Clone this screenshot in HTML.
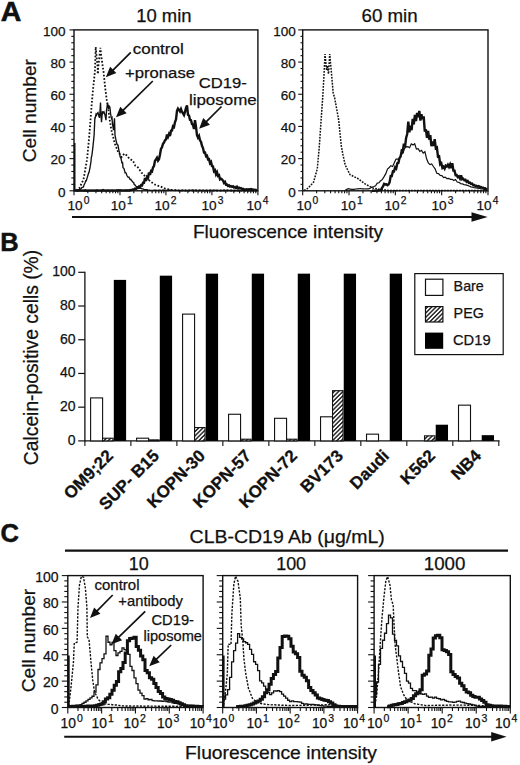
<!DOCTYPE html><html><head><meta charset="utf-8"><style>html,body{margin:0;padding:0;background:#fff;overflow:hidden;}svg{display:block;}</style></head><body><svg width="520" height="765" viewBox="0 0 520 765" font-family='"Liberation Sans", sans-serif' fill="#111">
<rect width="520" height="765" fill="#fff"/>
<text x="0.80" y="20.50" font-size="28.5" font-weight="bold" stroke="#111" stroke-width="0.6">A</text>
<text x="136.20" y="21.60" font-size="18" textLength="55.30" lengthAdjust="spacingAndGlyphs" stroke="#111" stroke-width="0.25">10 min</text>
<text x="361.50" y="21.60" font-size="18" textLength="56.20" lengthAdjust="spacingAndGlyphs" stroke="#111" stroke-width="0.25">60 min</text>
<rect x="74.00" y="29.90" width="183.90" height="160.90" fill="none" stroke="#111" stroke-width="1.4"/>
<line x1="69.50" y1="190.80" x2="74.00" y2="190.80" stroke="#111" stroke-width="1.1"/>
<text x="65.60" y="196.66" font-size="13.5" text-anchor="end" stroke="#111" stroke-width="0.25">0</text>
<line x1="71.30" y1="184.36" x2="74.00" y2="184.36" stroke="#111" stroke-width="1.1"/>
<line x1="71.30" y1="177.93" x2="74.00" y2="177.93" stroke="#111" stroke-width="1.1"/>
<line x1="71.30" y1="171.49" x2="74.00" y2="171.49" stroke="#111" stroke-width="1.1"/>
<line x1="71.30" y1="165.06" x2="74.00" y2="165.06" stroke="#111" stroke-width="1.1"/>
<line x1="69.50" y1="158.62" x2="74.00" y2="158.62" stroke="#111" stroke-width="1.1"/>
<text x="65.60" y="164.48" font-size="13.5" text-anchor="end" stroke="#111" stroke-width="0.25">20</text>
<line x1="71.30" y1="152.18" x2="74.00" y2="152.18" stroke="#111" stroke-width="1.1"/>
<line x1="71.30" y1="145.75" x2="74.00" y2="145.75" stroke="#111" stroke-width="1.1"/>
<line x1="71.30" y1="139.31" x2="74.00" y2="139.31" stroke="#111" stroke-width="1.1"/>
<line x1="71.30" y1="132.88" x2="74.00" y2="132.88" stroke="#111" stroke-width="1.1"/>
<line x1="69.50" y1="126.44" x2="74.00" y2="126.44" stroke="#111" stroke-width="1.1"/>
<text x="65.60" y="132.30" font-size="13.5" text-anchor="end" stroke="#111" stroke-width="0.25">40</text>
<line x1="71.30" y1="120.00" x2="74.00" y2="120.00" stroke="#111" stroke-width="1.1"/>
<line x1="71.30" y1="113.57" x2="74.00" y2="113.57" stroke="#111" stroke-width="1.1"/>
<line x1="71.30" y1="107.13" x2="74.00" y2="107.13" stroke="#111" stroke-width="1.1"/>
<line x1="71.30" y1="100.70" x2="74.00" y2="100.70" stroke="#111" stroke-width="1.1"/>
<line x1="69.50" y1="94.26" x2="74.00" y2="94.26" stroke="#111" stroke-width="1.1"/>
<text x="65.60" y="100.12" font-size="13.5" text-anchor="end" stroke="#111" stroke-width="0.25">60</text>
<line x1="71.30" y1="87.82" x2="74.00" y2="87.82" stroke="#111" stroke-width="1.1"/>
<line x1="71.30" y1="81.39" x2="74.00" y2="81.39" stroke="#111" stroke-width="1.1"/>
<line x1="71.30" y1="74.95" x2="74.00" y2="74.95" stroke="#111" stroke-width="1.1"/>
<line x1="71.30" y1="68.52" x2="74.00" y2="68.52" stroke="#111" stroke-width="1.1"/>
<line x1="69.50" y1="62.08" x2="74.00" y2="62.08" stroke="#111" stroke-width="1.1"/>
<text x="65.60" y="67.94" font-size="13.5" text-anchor="end" stroke="#111" stroke-width="0.25">80</text>
<line x1="71.30" y1="55.64" x2="74.00" y2="55.64" stroke="#111" stroke-width="1.1"/>
<line x1="71.30" y1="49.21" x2="74.00" y2="49.21" stroke="#111" stroke-width="1.1"/>
<line x1="71.30" y1="42.77" x2="74.00" y2="42.77" stroke="#111" stroke-width="1.1"/>
<line x1="71.30" y1="36.34" x2="74.00" y2="36.34" stroke="#111" stroke-width="1.1"/>
<line x1="69.50" y1="29.90" x2="74.00" y2="29.90" stroke="#111" stroke-width="1.1"/>
<text x="65.60" y="35.76" font-size="13.5" text-anchor="end" stroke="#111" stroke-width="0.25">100</text>
<line x1="74.00" y1="190.80" x2="74.00" y2="195.30" stroke="#111" stroke-width="1.1"/>
<line x1="87.84" y1="190.80" x2="87.84" y2="193.30" stroke="#111" stroke-width="1.1"/>
<line x1="95.94" y1="190.80" x2="95.94" y2="193.30" stroke="#111" stroke-width="1.1"/>
<line x1="101.68" y1="190.80" x2="101.68" y2="193.30" stroke="#111" stroke-width="1.1"/>
<line x1="106.14" y1="190.80" x2="106.14" y2="193.30" stroke="#111" stroke-width="1.1"/>
<line x1="109.78" y1="190.80" x2="109.78" y2="193.30" stroke="#111" stroke-width="1.1"/>
<line x1="112.85" y1="190.80" x2="112.85" y2="193.30" stroke="#111" stroke-width="1.1"/>
<line x1="115.52" y1="190.80" x2="115.52" y2="193.30" stroke="#111" stroke-width="1.1"/>
<line x1="117.87" y1="190.80" x2="117.87" y2="193.30" stroke="#111" stroke-width="1.1"/>
<line x1="119.97" y1="190.80" x2="119.97" y2="195.30" stroke="#111" stroke-width="1.1"/>
<line x1="133.81" y1="190.80" x2="133.81" y2="193.30" stroke="#111" stroke-width="1.1"/>
<line x1="141.91" y1="190.80" x2="141.91" y2="193.30" stroke="#111" stroke-width="1.1"/>
<line x1="147.65" y1="190.80" x2="147.65" y2="193.30" stroke="#111" stroke-width="1.1"/>
<line x1="152.11" y1="190.80" x2="152.11" y2="193.30" stroke="#111" stroke-width="1.1"/>
<line x1="155.75" y1="190.80" x2="155.75" y2="193.30" stroke="#111" stroke-width="1.1"/>
<line x1="158.83" y1="190.80" x2="158.83" y2="193.30" stroke="#111" stroke-width="1.1"/>
<line x1="161.49" y1="190.80" x2="161.49" y2="193.30" stroke="#111" stroke-width="1.1"/>
<line x1="163.85" y1="190.80" x2="163.85" y2="193.30" stroke="#111" stroke-width="1.1"/>
<line x1="165.95" y1="190.80" x2="165.95" y2="195.30" stroke="#111" stroke-width="1.1"/>
<line x1="179.79" y1="190.80" x2="179.79" y2="193.30" stroke="#111" stroke-width="1.1"/>
<line x1="187.89" y1="190.80" x2="187.89" y2="193.30" stroke="#111" stroke-width="1.1"/>
<line x1="193.63" y1="190.80" x2="193.63" y2="193.30" stroke="#111" stroke-width="1.1"/>
<line x1="198.09" y1="190.80" x2="198.09" y2="193.30" stroke="#111" stroke-width="1.1"/>
<line x1="201.73" y1="190.80" x2="201.73" y2="193.30" stroke="#111" stroke-width="1.1"/>
<line x1="204.80" y1="190.80" x2="204.80" y2="193.30" stroke="#111" stroke-width="1.1"/>
<line x1="207.47" y1="190.80" x2="207.47" y2="193.30" stroke="#111" stroke-width="1.1"/>
<line x1="209.82" y1="190.80" x2="209.82" y2="193.30" stroke="#111" stroke-width="1.1"/>
<line x1="211.92" y1="190.80" x2="211.92" y2="195.30" stroke="#111" stroke-width="1.1"/>
<line x1="225.76" y1="190.80" x2="225.76" y2="193.30" stroke="#111" stroke-width="1.1"/>
<line x1="233.86" y1="190.80" x2="233.86" y2="193.30" stroke="#111" stroke-width="1.1"/>
<line x1="239.60" y1="190.80" x2="239.60" y2="193.30" stroke="#111" stroke-width="1.1"/>
<line x1="244.06" y1="190.80" x2="244.06" y2="193.30" stroke="#111" stroke-width="1.1"/>
<line x1="247.70" y1="190.80" x2="247.70" y2="193.30" stroke="#111" stroke-width="1.1"/>
<line x1="250.78" y1="190.80" x2="250.78" y2="193.30" stroke="#111" stroke-width="1.1"/>
<line x1="253.44" y1="190.80" x2="253.44" y2="193.30" stroke="#111" stroke-width="1.1"/>
<line x1="255.80" y1="190.80" x2="255.80" y2="193.30" stroke="#111" stroke-width="1.1"/>
<line x1="257.90" y1="190.80" x2="257.90" y2="195.30" stroke="#111" stroke-width="1.1"/>
<text x="67.50" y="209.80" font-size="13.6" stroke="#111" stroke-width="0.25">10</text>
<text x="83.67" y="204.36" font-size="10.3" stroke="#111" stroke-width="0.25">0</text>
<text x="110.80" y="209.80" font-size="13.6" stroke="#111" stroke-width="0.25">10</text>
<text x="126.97" y="204.36" font-size="10.3" stroke="#111" stroke-width="0.25">1</text>
<text x="154.50" y="209.80" font-size="13.6" stroke="#111" stroke-width="0.25">10</text>
<text x="170.67" y="204.36" font-size="10.3" stroke="#111" stroke-width="0.25">2</text>
<text x="201.50" y="209.80" font-size="13.6" stroke="#111" stroke-width="0.25">10</text>
<text x="217.67" y="204.36" font-size="10.3" stroke="#111" stroke-width="0.25">3</text>
<text x="246.50" y="209.80" font-size="13.6" stroke="#111" stroke-width="0.25">10</text>
<text x="262.67" y="204.36" font-size="10.3" stroke="#111" stroke-width="0.25">4</text>
<line x1="74.70" y1="143.00" x2="74.70" y2="190.80" stroke="#111" stroke-width="1.6"/>
<rect x="302.70" y="29.90" width="185.30" height="160.90" fill="none" stroke="#111" stroke-width="1.4"/>
<line x1="298.20" y1="190.80" x2="302.70" y2="190.80" stroke="#111" stroke-width="1.1"/>
<text x="295.80" y="196.66" font-size="13.5" text-anchor="end" stroke="#111" stroke-width="0.25">0</text>
<line x1="300.50" y1="184.36" x2="302.70" y2="184.36" stroke="#111" stroke-width="1.1"/>
<line x1="300.50" y1="177.93" x2="302.70" y2="177.93" stroke="#111" stroke-width="1.1"/>
<line x1="300.50" y1="171.49" x2="302.70" y2="171.49" stroke="#111" stroke-width="1.1"/>
<line x1="300.50" y1="165.06" x2="302.70" y2="165.06" stroke="#111" stroke-width="1.1"/>
<line x1="298.20" y1="158.62" x2="302.70" y2="158.62" stroke="#111" stroke-width="1.1"/>
<text x="295.80" y="164.48" font-size="13.5" text-anchor="end" stroke="#111" stroke-width="0.25">20</text>
<line x1="300.50" y1="152.18" x2="302.70" y2="152.18" stroke="#111" stroke-width="1.1"/>
<line x1="300.50" y1="145.75" x2="302.70" y2="145.75" stroke="#111" stroke-width="1.1"/>
<line x1="300.50" y1="139.31" x2="302.70" y2="139.31" stroke="#111" stroke-width="1.1"/>
<line x1="300.50" y1="132.88" x2="302.70" y2="132.88" stroke="#111" stroke-width="1.1"/>
<line x1="298.20" y1="126.44" x2="302.70" y2="126.44" stroke="#111" stroke-width="1.1"/>
<text x="295.80" y="132.30" font-size="13.5" text-anchor="end" stroke="#111" stroke-width="0.25">40</text>
<line x1="300.50" y1="120.00" x2="302.70" y2="120.00" stroke="#111" stroke-width="1.1"/>
<line x1="300.50" y1="113.57" x2="302.70" y2="113.57" stroke="#111" stroke-width="1.1"/>
<line x1="300.50" y1="107.13" x2="302.70" y2="107.13" stroke="#111" stroke-width="1.1"/>
<line x1="300.50" y1="100.70" x2="302.70" y2="100.70" stroke="#111" stroke-width="1.1"/>
<line x1="298.20" y1="94.26" x2="302.70" y2="94.26" stroke="#111" stroke-width="1.1"/>
<text x="295.80" y="100.12" font-size="13.5" text-anchor="end" stroke="#111" stroke-width="0.25">60</text>
<line x1="300.50" y1="87.82" x2="302.70" y2="87.82" stroke="#111" stroke-width="1.1"/>
<line x1="300.50" y1="81.39" x2="302.70" y2="81.39" stroke="#111" stroke-width="1.1"/>
<line x1="300.50" y1="74.95" x2="302.70" y2="74.95" stroke="#111" stroke-width="1.1"/>
<line x1="300.50" y1="68.52" x2="302.70" y2="68.52" stroke="#111" stroke-width="1.1"/>
<line x1="298.20" y1="62.08" x2="302.70" y2="62.08" stroke="#111" stroke-width="1.1"/>
<text x="295.80" y="67.94" font-size="13.5" text-anchor="end" stroke="#111" stroke-width="0.25">80</text>
<line x1="300.50" y1="55.64" x2="302.70" y2="55.64" stroke="#111" stroke-width="1.1"/>
<line x1="300.50" y1="49.21" x2="302.70" y2="49.21" stroke="#111" stroke-width="1.1"/>
<line x1="300.50" y1="42.77" x2="302.70" y2="42.77" stroke="#111" stroke-width="1.1"/>
<line x1="300.50" y1="36.34" x2="302.70" y2="36.34" stroke="#111" stroke-width="1.1"/>
<line x1="298.20" y1="29.90" x2="302.70" y2="29.90" stroke="#111" stroke-width="1.1"/>
<text x="295.80" y="35.76" font-size="13.5" text-anchor="end" stroke="#111" stroke-width="0.25">100</text>
<line x1="302.70" y1="190.80" x2="302.70" y2="195.30" stroke="#111" stroke-width="1.1"/>
<line x1="316.65" y1="190.80" x2="316.65" y2="193.30" stroke="#111" stroke-width="1.1"/>
<line x1="324.80" y1="190.80" x2="324.80" y2="193.30" stroke="#111" stroke-width="1.1"/>
<line x1="330.59" y1="190.80" x2="330.59" y2="193.30" stroke="#111" stroke-width="1.1"/>
<line x1="335.08" y1="190.80" x2="335.08" y2="193.30" stroke="#111" stroke-width="1.1"/>
<line x1="338.75" y1="190.80" x2="338.75" y2="193.30" stroke="#111" stroke-width="1.1"/>
<line x1="341.85" y1="190.80" x2="341.85" y2="193.30" stroke="#111" stroke-width="1.1"/>
<line x1="344.54" y1="190.80" x2="344.54" y2="193.30" stroke="#111" stroke-width="1.1"/>
<line x1="346.91" y1="190.80" x2="346.91" y2="193.30" stroke="#111" stroke-width="1.1"/>
<line x1="349.02" y1="190.80" x2="349.02" y2="195.30" stroke="#111" stroke-width="1.1"/>
<line x1="362.97" y1="190.80" x2="362.97" y2="193.30" stroke="#111" stroke-width="1.1"/>
<line x1="371.13" y1="190.80" x2="371.13" y2="193.30" stroke="#111" stroke-width="1.1"/>
<line x1="376.92" y1="190.80" x2="376.92" y2="193.30" stroke="#111" stroke-width="1.1"/>
<line x1="381.40" y1="190.80" x2="381.40" y2="193.30" stroke="#111" stroke-width="1.1"/>
<line x1="385.07" y1="190.80" x2="385.07" y2="193.30" stroke="#111" stroke-width="1.1"/>
<line x1="388.17" y1="190.80" x2="388.17" y2="193.30" stroke="#111" stroke-width="1.1"/>
<line x1="390.86" y1="190.80" x2="390.86" y2="193.30" stroke="#111" stroke-width="1.1"/>
<line x1="393.23" y1="190.80" x2="393.23" y2="193.30" stroke="#111" stroke-width="1.1"/>
<line x1="395.35" y1="190.80" x2="395.35" y2="195.30" stroke="#111" stroke-width="1.1"/>
<line x1="409.30" y1="190.80" x2="409.30" y2="193.30" stroke="#111" stroke-width="1.1"/>
<line x1="417.45" y1="190.80" x2="417.45" y2="193.30" stroke="#111" stroke-width="1.1"/>
<line x1="423.24" y1="190.80" x2="423.24" y2="193.30" stroke="#111" stroke-width="1.1"/>
<line x1="427.73" y1="190.80" x2="427.73" y2="193.30" stroke="#111" stroke-width="1.1"/>
<line x1="431.40" y1="190.80" x2="431.40" y2="193.30" stroke="#111" stroke-width="1.1"/>
<line x1="434.50" y1="190.80" x2="434.50" y2="193.30" stroke="#111" stroke-width="1.1"/>
<line x1="437.19" y1="190.80" x2="437.19" y2="193.30" stroke="#111" stroke-width="1.1"/>
<line x1="439.56" y1="190.80" x2="439.56" y2="193.30" stroke="#111" stroke-width="1.1"/>
<line x1="441.68" y1="190.80" x2="441.68" y2="195.30" stroke="#111" stroke-width="1.1"/>
<line x1="455.62" y1="190.80" x2="455.62" y2="193.30" stroke="#111" stroke-width="1.1"/>
<line x1="463.78" y1="190.80" x2="463.78" y2="193.30" stroke="#111" stroke-width="1.1"/>
<line x1="469.57" y1="190.80" x2="469.57" y2="193.30" stroke="#111" stroke-width="1.1"/>
<line x1="474.05" y1="190.80" x2="474.05" y2="193.30" stroke="#111" stroke-width="1.1"/>
<line x1="477.72" y1="190.80" x2="477.72" y2="193.30" stroke="#111" stroke-width="1.1"/>
<line x1="480.82" y1="190.80" x2="480.82" y2="193.30" stroke="#111" stroke-width="1.1"/>
<line x1="483.51" y1="190.80" x2="483.51" y2="193.30" stroke="#111" stroke-width="1.1"/>
<line x1="485.88" y1="190.80" x2="485.88" y2="193.30" stroke="#111" stroke-width="1.1"/>
<line x1="488.00" y1="190.80" x2="488.00" y2="195.30" stroke="#111" stroke-width="1.1"/>
<text x="296.40" y="209.80" font-size="13.6" stroke="#111" stroke-width="0.25">10</text>
<text x="312.57" y="204.36" font-size="10.3" stroke="#111" stroke-width="0.25">0</text>
<text x="340.80" y="209.80" font-size="13.6" stroke="#111" stroke-width="0.25">10</text>
<text x="356.97" y="204.36" font-size="10.3" stroke="#111" stroke-width="0.25">1</text>
<text x="384.50" y="209.80" font-size="13.6" stroke="#111" stroke-width="0.25">10</text>
<text x="400.67" y="204.36" font-size="10.3" stroke="#111" stroke-width="0.25">2</text>
<text x="431.50" y="209.80" font-size="13.6" stroke="#111" stroke-width="0.25">10</text>
<text x="447.67" y="204.36" font-size="10.3" stroke="#111" stroke-width="0.25">3</text>
<text x="476.50" y="209.80" font-size="13.6" stroke="#111" stroke-width="0.25">10</text>
<text x="492.67" y="204.36" font-size="10.3" stroke="#111" stroke-width="0.25">4</text>
<text x="36.00" y="110.65" font-size="19" text-anchor="middle" textLength="103.10" lengthAdjust="spacingAndGlyphs" transform="rotate(-90 36.00 110.65)" stroke="#111" stroke-width="0.25">Cell number</text>
<polyline points="76.00,190.50 79.20,188.30 80.90,184.80 83.50,179.60 85.50,168.00 87.10,159.30 89.40,134.20 91.80,102.80 93.30,87.10 94.90,71.40 95.70,47.00 98.20,74.60" fill="none" stroke="#111" stroke-width="1.8" stroke-linejoin="miter" stroke-miterlimit="3" stroke-dasharray="1.7 1.8"/>
<polyline points="97.60,73.00 100.40,47.80 101.20,55.70 103.50,71.40 105.10,87.10 106.70,99.70 108.30,109.00 109.50,118.50 111.20,129.40 114.70,143.30 118.10,151.90 121.60,157.10 124.20,153.70 126.80,155.40 129.40,158.80 132.80,160.60 135.40,165.80 138.00,167.50 141.50,172.70 145.00,176.20 150.20,181.30 155.30,184.80 160.50,186.50 166.00,189.00 172.00,190.00 180.00,190.50 257.00,190.50" fill="none" stroke="#111" stroke-width="1.8" stroke-linejoin="miter" stroke-miterlimit="3" stroke-dasharray="1.7 1.8"/>
<polyline points="76.00,190.59 77.00,190.43 78.00,189.99 79.00,189.55 80.00,189.43 80.90,188.90 81.00,188.80 82.00,187.41 83.00,187.35 83.50,186.59 84.00,185.04 85.00,182.97 86.00,180.33 86.10,181.21 87.00,178.36 88.00,175.01 88.70,172.59 89.00,172.60 90.00,167.53 91.00,161.52 91.30,157.75 92.00,154.63 92.60,149.70 93.00,146.06 94.00,136.32 94.10,135.45 94.90,117.39 95.00,118.94 96.00,114.33 96.50,115.21 97.00,113.67 98.00,112.57 99.00,116.50 99.50,117.86 100.00,111.35 100.50,102.61 101.00,114.25 101.50,122.22 102.00,115.99 102.50,111.25 103.00,113.25 104.00,111.96 105.00,114.92 105.50,117.71 106.00,120.20 106.50,110.22 107.00,107.01 107.50,103.38 108.00,105.71 108.50,108.95 109.00,105.85 109.50,106.33 110.00,107.94 110.50,113.15 111.00,116.17 111.50,118.27 112.00,117.58 112.50,124.32 113.00,126.87 113.50,130.25 114.00,123.91 114.50,118.38 115.00,135.15 116.00,140.30 117.00,144.28 118.00,145.12 118.10,146.03 119.00,150.71 119.90,154.44 120.00,156.65 121.00,158.41 122.00,163.42 122.50,161.86 123.00,167.65 124.00,168.54 125.00,172.39 125.10,172.23 126.00,172.87 127.00,175.80 127.70,176.71 128.00,177.12 129.00,177.21 130.00,179.25 131.00,179.36 131.10,180.22 132.00,181.01 133.00,182.27 133.70,182.57 134.00,184.09 135.00,185.04 136.00,186.31 136.30,186.45 137.00,186.54 138.00,187.04 139.00,187.88 139.80,188.42 140.00,188.41 141.00,188.25 142.00,188.90 143.00,188.88 144.00,189.34 145.00,189.67 146.00,189.73 147.00,189.79 148.00,190.13 149.00,190.10 150.00,190.24 151.00,190.30 152.00,190.42 153.00,190.45 154.00,190.20 155.00,190.24 156.00,190.28 157.00,190.31 158.00,190.42 159.00,190.29 160.00,190.18 161.00,190.34 162.00,190.37 163.00,190.00 164.00,190.24 165.00,190.18 166.00,190.31 167.00,190.38 168.00,190.48 169.00,190.24 170.00,190.06 171.00,190.41 172.00,190.27 173.00,190.41 174.00,190.38 175.00,190.31 176.00,190.14 177.00,190.42 178.00,190.34 179.00,190.48 180.00,190.38 181.00,190.45 182.00,190.35 183.00,190.27 184.00,190.46 185.00,190.43 186.00,190.49 187.00,190.52 188.00,190.46 189.00,190.50 190.00,190.17 191.00,190.39 192.00,190.08 193.00,190.24 194.00,190.28 195.00,190.47 196.00,190.28 197.00,190.46 198.00,190.45 199.00,190.39 200.00,190.26 201.00,190.40 202.00,190.47 203.00,190.41 204.00,190.42 205.00,190.37 206.00,190.53 207.00,190.52 208.00,190.42 209.00,190.32 210.00,190.41 211.00,190.27 212.00,190.42 213.00,190.51 214.00,190.42 215.00,190.29 216.00,190.40 217.00,190.56 218.00,190.42 219.00,190.41 220.00,190.55 221.00,190.38 222.00,190.47 223.00,190.32 224.00,190.29 225.00,190.36 226.00,190.39 227.00,190.22 228.00,190.33 229.00,190.37 230.00,190.46 231.00,190.41 232.00,190.46 233.00,190.36 234.00,190.50 235.00,190.57 236.00,190.57 237.00,190.54 238.00,190.59 239.00,190.41 240.00,190.38 241.00,190.59 242.00,190.39 243.00,190.11 244.00,190.45 245.00,190.36 246.00,190.47 247.00,190.54 248.00,190.45 249.00,190.56 250.00,190.54 251.00,190.35 252.00,190.51 253.00,190.51 254.00,190.40 255.00,190.60 256.00,190.60 257.00,190.63" fill="none" stroke="#111" stroke-width="1.35" stroke-linejoin="miter" stroke-miterlimit="3"/>
<polyline points="74.00,190.70 75.00,190.47 76.00,190.64 77.00,190.51 78.00,190.71 79.00,190.47 80.00,190.65 81.00,190.51 82.00,190.63 83.00,190.51 84.00,190.65 85.00,190.25 86.00,190.71 87.00,190.50 88.00,190.71 89.00,190.45 90.00,190.63 91.00,190.47 92.00,190.60 93.00,190.39 94.00,190.63 95.00,190.42 96.00,190.58 97.00,190.36 98.00,190.65 99.00,190.42 100.00,190.64 101.00,190.43 102.00,190.62 103.00,190.10 104.00,190.60 105.00,190.42 106.00,190.59 107.00,190.43 108.00,190.56 109.00,190.43 110.00,190.57 111.00,190.42 112.00,190.55 113.00,190.36 114.00,190.58 115.00,190.39 116.00,190.56 117.00,190.31 118.00,190.51 119.00,190.30 120.00,190.36 121.00,190.31 122.00,190.62 123.00,190.38 124.00,190.59 125.00,190.30 126.00,190.55 127.00,190.29 128.00,190.59 129.00,190.34 130.00,190.58 131.00,189.91 132.00,190.02 133.00,189.40 134.00,189.38 135.00,188.66 136.00,188.99 137.00,187.90 138.00,187.99 139.00,186.42 140.00,186.87 141.00,185.16 142.00,185.44 143.00,182.73 144.00,182.81 145.00,178.04 146.00,181.02 147.00,176.98 148.00,178.05 149.00,172.55 150.00,174.83 151.00,170.96 152.00,171.53 153.00,167.41 154.00,166.09 155.00,160.74 156.00,159.44 157.00,157.75 158.00,160.62 159.00,159.17 160.00,154.46 161.00,148.82 162.00,147.29 163.00,143.83 164.00,142.59 165.00,140.33 166.00,139.39 167.00,134.44 168.00,136.73 169.00,133.98 170.00,135.92 171.00,130.81 172.00,130.52 173.00,126.27 174.00,126.93 175.00,122.05 176.00,119.56 177.00,110.92 178.00,108.56 179.00,109.90 180.00,111.48 181.00,109.06 182.00,111.80 183.00,113.41 184.00,115.02 185.00,111.72 186.00,107.90 187.00,105.46 188.00,114.87 189.00,115.46 190.00,119.87 191.00,120.19 192.00,124.03 193.00,124.89 194.00,128.97 195.00,120.23 196.00,126.84 197.00,135.18 198.00,137.54 199.00,135.92 200.00,140.37 201.00,141.84 202.00,145.87 203.00,148.06 204.00,152.51 205.00,152.49 206.00,156.11 207.00,155.61 208.00,159.28 209.00,159.13 210.00,163.06 211.00,161.83 212.00,166.13 213.00,166.48 214.00,171.19 215.00,170.28 216.00,174.24 217.00,172.25 218.00,175.90 219.00,175.27 220.00,179.33 221.00,178.72 222.00,179.39 223.00,180.56 224.00,182.98 225.00,182.00 226.00,184.67 227.00,184.50 228.00,185.98 229.00,185.41 230.00,186.61 231.00,186.11 232.00,186.88 233.00,186.32 234.00,187.58 235.00,187.04 236.00,188.00 237.00,186.76 238.00,188.19 239.00,187.69 240.00,188.50 241.00,188.19 242.00,189.06 243.00,188.86 244.00,189.55 245.00,189.51 246.00,189.68 247.00,189.20 248.00,189.53 249.00,189.18 250.00,189.44 251.00,189.12 252.00,189.67 253.00,189.46 254.00,189.99 255.00,189.71 256.00,190.10 257.00,190.04" fill="none" stroke="#111" stroke-width="2.4" stroke-linejoin="miter" stroke-miterlimit="3"/>
<text x="132.70" y="54.20" font-size="15.3" textLength="51.00" lengthAdjust="spacingAndGlyphs" stroke="#111" stroke-width="0.25">control</text>
<text x="125.00" y="77.70" font-size="15.3" textLength="70.00" lengthAdjust="spacingAndGlyphs" stroke="#111" stroke-width="0.25">+pronase</text>
<text x="198.70" y="87.70" font-size="15.3" textLength="48.00" lengthAdjust="spacingAndGlyphs" stroke="#111" stroke-width="0.25">CD19-</text>
<text x="188.90" y="104.80" font-size="15.3" textLength="67.80" lengthAdjust="spacingAndGlyphs" stroke="#111" stroke-width="0.25">liposome</text>
<line x1="130.80" y1="52.30" x2="112.52" y2="70.58" stroke="#111" stroke-width="1.7"/>
<polygon points="105.80,77.30 110.11,66.76 116.34,72.99" fill="#111"/>
<line x1="152.80" y1="81.00" x2="122.76" y2="110.63" stroke="#111" stroke-width="1.7"/>
<polygon points="116.00,117.30 120.24,106.65 126.71,113.20" fill="#111"/>
<line x1="221.50" y1="106.50" x2="205.85" y2="122.15" stroke="#111" stroke-width="1.7"/>
<polygon points="199.20,128.80 203.16,118.05 209.95,124.84" fill="#111"/>
<polyline points="304.00,190.50 307.00,189.00 310.00,186.00 313.50,182.30 317.30,168.80 319.20,147.70 321.20,118.80 322.70,97.70 324.00,75.00 325.00,54.00 326.50,70.00 327.50,66.00 328.50,74.00 329.70,54.00 331.00,68.00 333.20,93.00 334.60,97.70 338.50,118.80 341.30,145.80 343.00,155.00 345.20,165.00 350.00,174.60 357.70,178.50 365.40,184.20 373.00,188.00 380.00,189.50 390.00,190.50 487.00,190.50" fill="none" stroke="#111" stroke-width="1.5" stroke-linejoin="miter" stroke-miterlimit="3" stroke-dasharray="1.8 1.2"/>
<polyline points="345.00,190.52 346.70,189.38 348.40,188.74 350.10,189.07 351.80,189.42 353.50,189.35 355.20,189.22 356.90,188.75 358.60,188.81 360.30,188.53 362.00,188.80 363.70,188.73 365.40,188.97 367.10,188.97 368.80,188.82 370.50,187.98 372.20,187.01 373.90,186.50 375.60,185.84 377.30,183.04 379.00,182.75 380.70,180.73 382.40,179.35 384.10,176.63 385.80,173.64 387.50,169.01 389.20,167.45 390.90,165.70 392.60,166.47 394.30,162.86 396.00,159.03 397.70,159.06 399.40,158.90 401.10,153.87 402.80,153.52 404.50,148.66 406.20,146.94 407.90,146.71 409.60,147.70 411.30,143.81 413.00,144.98 414.70,143.82 416.40,149.11 418.10,148.68 419.80,151.43 421.50,150.36 423.20,153.09 424.90,151.67 426.60,158.84 428.30,162.85 430.00,164.60 431.70,164.03 433.40,166.52 435.10,168.77 436.80,173.27 438.50,173.58 440.20,175.50 441.90,175.69 443.60,177.65 445.30,177.22 447.00,178.60 448.70,178.32 450.40,179.28 452.10,179.27 453.80,180.45 455.50,179.52 457.20,182.04 458.90,182.37 460.60,183.58 462.30,183.82 464.00,184.63 465.70,184.94 467.40,185.36 469.10,186.06 470.80,186.90 472.50,187.23 474.20,187.70 475.90,187.83 477.60,188.07 479.30,188.39 481.00,188.75 482.70,188.93 484.40,189.30 486.10,189.51" fill="none" stroke="#111" stroke-width="1.2" stroke-linejoin="miter" stroke-miterlimit="3"/>
<polyline points="372.00,190.80 373.10,190.74 374.20,190.72 375.30,190.62 376.40,190.62 377.50,190.51 378.60,190.50 379.70,190.37 380.80,190.39 381.90,188.09 383.00,186.47 384.10,183.82 385.20,184.40 386.30,184.22 387.40,185.24 388.50,184.50 389.60,182.25 390.70,176.02 391.80,176.01 392.90,171.31 394.00,171.48 395.10,167.44 396.20,168.58 397.30,163.43 398.40,162.88 399.50,157.97 400.60,156.71 401.70,150.62 402.80,151.28 403.90,143.73 405.00,147.24 406.10,137.95 407.20,133.97 408.30,121.54 409.40,132.40 410.50,125.66 411.60,130.19 412.70,118.84 413.80,124.42 414.90,114.98 416.00,121.05 417.10,112.89 418.20,117.12 419.30,110.92 420.40,120.65 421.50,114.26 422.60,119.15 423.70,116.32 424.80,131.56 425.90,129.30 427.00,137.88 428.10,130.92 429.20,139.64 430.30,135.19 431.40,146.13 432.50,141.51 433.60,146.03 434.70,139.22 435.80,148.23 436.90,147.55 438.00,156.67 439.10,156.31 440.20,164.27 441.30,163.22 442.40,167.82 443.50,166.76 444.60,168.61 445.70,165.64 446.80,166.54 447.90,164.65 449.00,166.84 450.10,164.39 451.20,168.18 452.30,163.19 453.40,170.55 454.50,170.68 455.60,175.27 456.70,175.14 457.80,177.18 458.90,176.33 460.00,178.48 461.10,175.35 462.20,179.28 463.30,178.77 464.40,180.32 465.50,179.84 466.60,181.74 467.70,180.99 468.80,182.92 469.90,182.68 471.00,183.86 472.10,183.62 473.20,185.27 474.30,185.12 475.40,185.95 476.50,185.73 477.60,186.62 478.70,186.20 479.80,186.87 480.90,186.88 482.00,187.65 483.10,187.68 484.20,188.50 485.30,188.27 486.40,189.17 487.50,189.28" fill="none" stroke="#111" stroke-width="2.4" stroke-linejoin="miter" stroke-miterlimit="3"/>
<line x1="72.00" y1="217.00" x2="474.00" y2="217.00" stroke="#111" stroke-width="2.0"/>
<polygon points="487.7,217 471.5,212.2 471.5,221.8" fill="#111"/>
<text x="192.90" y="238.10" font-size="18.5" textLength="190.20" lengthAdjust="spacingAndGlyphs" stroke="#111" stroke-width="0.25">Fluorescence intensity</text>
<text x="0.30" y="251.20" font-size="25.5" font-weight="bold" stroke="#111" stroke-width="0.5">B</text>
<text x="38.40" y="357.50" font-size="19.5" text-anchor="middle" textLength="215.40" lengthAdjust="spacingAndGlyphs" transform="rotate(-90 38.40 357.50)" stroke="#111" stroke-width="0.25">Calcein-positive cells (%)</text>
<line x1="84.90" y1="271.70" x2="84.90" y2="441.50" stroke="#111" stroke-width="1.3"/>
<line x1="84.90" y1="440.90" x2="499.60" y2="440.90" stroke="#111" stroke-width="1.3"/>
<line x1="78.20" y1="440.90" x2="84.90" y2="440.90" stroke="#111" stroke-width="1.2"/>
<text x="75.60" y="444.80" font-size="14" text-anchor="end" stroke="#111" stroke-width="0.25">0</text>
<line x1="78.20" y1="407.18" x2="84.90" y2="407.18" stroke="#111" stroke-width="1.2"/>
<text x="75.60" y="411.08" font-size="14" text-anchor="end" stroke="#111" stroke-width="0.25">20</text>
<line x1="78.20" y1="373.46" x2="84.90" y2="373.46" stroke="#111" stroke-width="1.2"/>
<text x="75.60" y="377.36" font-size="14" text-anchor="end" stroke="#111" stroke-width="0.25">40</text>
<line x1="78.20" y1="339.74" x2="84.90" y2="339.74" stroke="#111" stroke-width="1.2"/>
<text x="75.60" y="343.64" font-size="14" text-anchor="end" stroke="#111" stroke-width="0.25">60</text>
<line x1="78.20" y1="306.02" x2="84.90" y2="306.02" stroke="#111" stroke-width="1.2"/>
<text x="75.60" y="309.92" font-size="14" text-anchor="end" stroke="#111" stroke-width="0.25">80</text>
<line x1="78.20" y1="272.30" x2="84.90" y2="272.30" stroke="#111" stroke-width="1.2"/>
<text x="75.60" y="276.20" font-size="14" text-anchor="end" stroke="#111" stroke-width="0.25">100</text>
<line x1="84.90" y1="440.90" x2="84.90" y2="445.90" stroke="#111" stroke-width="1.1"/>
<line x1="130.89" y1="440.90" x2="130.89" y2="445.90" stroke="#111" stroke-width="1.1"/>
<line x1="176.88" y1="440.90" x2="176.88" y2="445.90" stroke="#111" stroke-width="1.1"/>
<line x1="222.87" y1="440.90" x2="222.87" y2="445.90" stroke="#111" stroke-width="1.1"/>
<line x1="268.86" y1="440.90" x2="268.86" y2="445.90" stroke="#111" stroke-width="1.1"/>
<line x1="314.84" y1="440.90" x2="314.84" y2="445.90" stroke="#111" stroke-width="1.1"/>
<line x1="360.83" y1="440.90" x2="360.83" y2="445.90" stroke="#111" stroke-width="1.1"/>
<line x1="406.82" y1="440.90" x2="406.82" y2="445.90" stroke="#111" stroke-width="1.1"/>
<line x1="452.81" y1="440.90" x2="452.81" y2="445.90" stroke="#111" stroke-width="1.1"/>
<line x1="498.80" y1="440.90" x2="498.80" y2="445.90" stroke="#111" stroke-width="1.1"/>
<defs><pattern id="hatch" patternUnits="userSpaceOnUse" width="3.05" height="3.05" patternTransform="rotate(45)"><rect width="3.05" height="3.05" fill="#fff"/><line x1="0.8" y1="0" x2="0.8" y2="3.05" stroke="#000" stroke-width="1.25"/></pattern></defs>
<rect x="90.60" y="397.91" width="12" height="42.99" fill="#fff" stroke="#111" stroke-width="1.1"/>
<rect x="102.60" y="438.20" width="10.5" height="2.70" fill="url(#hatch)" stroke="#111" stroke-width="1.1"/>
<rect x="113.80" y="279.89" width="12.3" height="161.01" fill="#000"/>
<rect x="136.59" y="438.20" width="12" height="2.70" fill="#fff" stroke="#111" stroke-width="1.1"/>
<rect x="148.59" y="439.89" width="10.5" height="1.01" fill="url(#hatch)" stroke="#111" stroke-width="1.1"/>
<rect x="159.79" y="275.67" width="12.3" height="165.23" fill="#000"/>
<rect x="182.58" y="314.11" width="12" height="126.79" fill="#fff" stroke="#111" stroke-width="1.1"/>
<rect x="194.58" y="427.58" width="10.5" height="13.32" fill="url(#hatch)" stroke="#111" stroke-width="1.1"/>
<rect x="205.78" y="273.65" width="12.3" height="167.25" fill="#000"/>
<rect x="228.57" y="414.26" width="12" height="26.64" fill="#fff" stroke="#111" stroke-width="1.1"/>
<rect x="240.57" y="439.21" width="10.5" height="1.69" fill="url(#hatch)" stroke="#111" stroke-width="1.1"/>
<rect x="251.77" y="273.65" width="12.3" height="167.25" fill="#000"/>
<rect x="274.56" y="418.31" width="12" height="22.59" fill="#fff" stroke="#111" stroke-width="1.1"/>
<rect x="286.56" y="439.21" width="10.5" height="1.69" fill="url(#hatch)" stroke="#111" stroke-width="1.1"/>
<rect x="297.76" y="273.65" width="12.3" height="167.25" fill="#000"/>
<rect x="320.54" y="416.79" width="12" height="24.11" fill="#fff" stroke="#111" stroke-width="1.1"/>
<rect x="332.54" y="390.66" width="10.5" height="50.24" fill="url(#hatch)" stroke="#111" stroke-width="1.1"/>
<rect x="343.74" y="273.65" width="12.3" height="167.25" fill="#000"/>
<rect x="366.53" y="434.16" width="12" height="6.74" fill="#fff" stroke="#111" stroke-width="1.1"/>
<rect x="389.73" y="273.65" width="12.3" height="167.25" fill="#000"/>
<rect x="424.52" y="435.84" width="10.5" height="5.06" fill="url(#hatch)" stroke="#111" stroke-width="1.1"/>
<rect x="435.72" y="424.71" width="12.3" height="16.19" fill="#000"/>
<rect x="458.51" y="405.16" width="12" height="35.74" fill="#fff" stroke="#111" stroke-width="1.1"/>
<rect x="481.71" y="435.17" width="12.3" height="5.73" fill="#000"/>
<text x="114.19" y="456.80" font-size="17" text-anchor="end" font-weight="bold" transform="rotate(-45 114.19 456.80)" stroke="#111" stroke-width="0.3">OM9;22</text>
<text x="160.18" y="456.80" font-size="17" text-anchor="end" font-weight="bold" transform="rotate(-45 160.18 456.80)" stroke="#111" stroke-width="0.3">SUP- B15</text>
<text x="206.17" y="456.80" font-size="17" text-anchor="end" font-weight="bold" transform="rotate(-45 206.17 456.80)" stroke="#111" stroke-width="0.3">KOPN-30</text>
<text x="252.16" y="456.80" font-size="17" text-anchor="end" font-weight="bold" transform="rotate(-45 252.16 456.80)" stroke="#111" stroke-width="0.3">KOPN-57</text>
<text x="298.15" y="456.80" font-size="17" text-anchor="end" font-weight="bold" transform="rotate(-45 298.15 456.80)" stroke="#111" stroke-width="0.3">KOPN-72</text>
<text x="344.14" y="456.80" font-size="17" text-anchor="end" font-weight="bold" transform="rotate(-45 344.14 456.80)" stroke="#111" stroke-width="0.3">BV173</text>
<text x="390.13" y="456.80" font-size="17" text-anchor="end" font-weight="bold" transform="rotate(-45 390.13 456.80)" stroke="#111" stroke-width="0.3">Daudi</text>
<text x="436.12" y="456.80" font-size="17" text-anchor="end" font-weight="bold" transform="rotate(-45 436.12 456.80)" stroke="#111" stroke-width="0.3">K562</text>
<text x="482.11" y="456.80" font-size="17" text-anchor="end" font-weight="bold" transform="rotate(-45 482.11 456.80)" stroke="#111" stroke-width="0.3">NB4</text>
<rect x="414.8" y="273.6" width="88.4" height="81" fill="#fff" stroke="#111" stroke-width="1.2"/>
<rect x="425.5" y="279.2" width="17.4" height="16.2" fill="#fff" stroke="#111" stroke-width="1.2"/>
<rect x="425.5" y="306.6" width="17.4" height="15.4" fill="url(#hatch)" stroke="#111" stroke-width="1.2"/>
<rect x="425.0" y="332.6" width="18.2" height="16.2" fill="#000"/>
<text x="453.60" y="291.30" font-size="14.6" textLength="30.20" lengthAdjust="spacingAndGlyphs" stroke="#111" stroke-width="0.25">Bare</text>
<text x="453.60" y="318.20" font-size="14.6" textLength="30.20" lengthAdjust="spacingAndGlyphs" stroke="#111" stroke-width="0.25">PEG</text>
<text x="453.00" y="345.30" font-size="14.6" textLength="37.60" lengthAdjust="spacingAndGlyphs" stroke="#111" stroke-width="0.25">CD19</text>
<text x="0.60" y="542.40" font-size="25.5" font-weight="bold" stroke="#111" stroke-width="0.5">C</text>
<text x="189.60" y="543.30" font-size="18.8" textLength="195.20" lengthAdjust="spacingAndGlyphs" stroke="#111" stroke-width="0.25">CLB-CD19 Ab (μg/mL)</text>
<line x1="65.00" y1="550.60" x2="508.00" y2="550.60" stroke="#111" stroke-width="2.2"/>
<text x="128.70" y="570.40" font-size="18" textLength="20.00" lengthAdjust="spacingAndGlyphs" stroke="#111" stroke-width="0.25">10</text>
<text x="276.20" y="570.40" font-size="18" textLength="29.90" lengthAdjust="spacingAndGlyphs" stroke="#111" stroke-width="0.25">100</text>
<text x="423.80" y="570.40" font-size="18" textLength="41.60" lengthAdjust="spacingAndGlyphs" stroke="#111" stroke-width="0.25">1000</text>
<rect x="67.80" y="575.60" width="135.30" height="131.90" fill="none" stroke="#111" stroke-width="1.4"/>
<line x1="61.80" y1="707.50" x2="67.80" y2="707.50" stroke="#111" stroke-width="1.1"/>
<text x="58.60" y="713.84" font-size="14" text-anchor="end" stroke="#111" stroke-width="0.25">0</text>
<line x1="64.30" y1="702.22" x2="67.80" y2="702.22" stroke="#111" stroke-width="1.1"/>
<line x1="64.30" y1="696.95" x2="67.80" y2="696.95" stroke="#111" stroke-width="1.1"/>
<line x1="64.30" y1="691.67" x2="67.80" y2="691.67" stroke="#111" stroke-width="1.1"/>
<line x1="64.30" y1="686.40" x2="67.80" y2="686.40" stroke="#111" stroke-width="1.1"/>
<line x1="61.80" y1="681.12" x2="67.80" y2="681.12" stroke="#111" stroke-width="1.1"/>
<text x="58.60" y="687.46" font-size="14" text-anchor="end" stroke="#111" stroke-width="0.25">20</text>
<line x1="64.30" y1="675.84" x2="67.80" y2="675.84" stroke="#111" stroke-width="1.1"/>
<line x1="64.30" y1="670.57" x2="67.80" y2="670.57" stroke="#111" stroke-width="1.1"/>
<line x1="64.30" y1="665.29" x2="67.80" y2="665.29" stroke="#111" stroke-width="1.1"/>
<line x1="64.30" y1="660.02" x2="67.80" y2="660.02" stroke="#111" stroke-width="1.1"/>
<line x1="61.80" y1="654.74" x2="67.80" y2="654.74" stroke="#111" stroke-width="1.1"/>
<text x="58.60" y="661.08" font-size="14" text-anchor="end" stroke="#111" stroke-width="0.25">40</text>
<line x1="64.30" y1="649.46" x2="67.80" y2="649.46" stroke="#111" stroke-width="1.1"/>
<line x1="64.30" y1="644.19" x2="67.80" y2="644.19" stroke="#111" stroke-width="1.1"/>
<line x1="64.30" y1="638.91" x2="67.80" y2="638.91" stroke="#111" stroke-width="1.1"/>
<line x1="64.30" y1="633.64" x2="67.80" y2="633.64" stroke="#111" stroke-width="1.1"/>
<line x1="61.80" y1="628.36" x2="67.80" y2="628.36" stroke="#111" stroke-width="1.1"/>
<text x="58.60" y="634.70" font-size="14" text-anchor="end" stroke="#111" stroke-width="0.25">60</text>
<line x1="64.30" y1="623.08" x2="67.80" y2="623.08" stroke="#111" stroke-width="1.1"/>
<line x1="64.30" y1="617.81" x2="67.80" y2="617.81" stroke="#111" stroke-width="1.1"/>
<line x1="64.30" y1="612.53" x2="67.80" y2="612.53" stroke="#111" stroke-width="1.1"/>
<line x1="64.30" y1="607.26" x2="67.80" y2="607.26" stroke="#111" stroke-width="1.1"/>
<line x1="61.80" y1="601.98" x2="67.80" y2="601.98" stroke="#111" stroke-width="1.1"/>
<text x="58.60" y="608.32" font-size="14" text-anchor="end" stroke="#111" stroke-width="0.25">80</text>
<line x1="64.30" y1="596.70" x2="67.80" y2="596.70" stroke="#111" stroke-width="1.1"/>
<line x1="64.30" y1="591.43" x2="67.80" y2="591.43" stroke="#111" stroke-width="1.1"/>
<line x1="64.30" y1="586.15" x2="67.80" y2="586.15" stroke="#111" stroke-width="1.1"/>
<line x1="64.30" y1="580.88" x2="67.80" y2="580.88" stroke="#111" stroke-width="1.1"/>
<line x1="61.80" y1="575.60" x2="67.80" y2="575.60" stroke="#111" stroke-width="1.1"/>
<text x="58.60" y="581.94" font-size="14" text-anchor="end" stroke="#111" stroke-width="0.25">100</text>
<line x1="67.80" y1="707.50" x2="67.80" y2="713.50" stroke="#111" stroke-width="1.1"/>
<line x1="77.98" y1="707.50" x2="77.98" y2="711.00" stroke="#111" stroke-width="1.1"/>
<line x1="83.94" y1="707.50" x2="83.94" y2="711.00" stroke="#111" stroke-width="1.1"/>
<line x1="88.16" y1="707.50" x2="88.16" y2="711.00" stroke="#111" stroke-width="1.1"/>
<line x1="91.44" y1="707.50" x2="91.44" y2="711.00" stroke="#111" stroke-width="1.1"/>
<line x1="94.12" y1="707.50" x2="94.12" y2="711.00" stroke="#111" stroke-width="1.1"/>
<line x1="96.39" y1="707.50" x2="96.39" y2="711.00" stroke="#111" stroke-width="1.1"/>
<line x1="98.35" y1="707.50" x2="98.35" y2="711.00" stroke="#111" stroke-width="1.1"/>
<line x1="100.08" y1="707.50" x2="100.08" y2="711.00" stroke="#111" stroke-width="1.1"/>
<line x1="101.62" y1="707.50" x2="101.62" y2="713.50" stroke="#111" stroke-width="1.1"/>
<line x1="111.81" y1="707.50" x2="111.81" y2="711.00" stroke="#111" stroke-width="1.1"/>
<line x1="117.76" y1="707.50" x2="117.76" y2="711.00" stroke="#111" stroke-width="1.1"/>
<line x1="121.99" y1="707.50" x2="121.99" y2="711.00" stroke="#111" stroke-width="1.1"/>
<line x1="125.27" y1="707.50" x2="125.27" y2="711.00" stroke="#111" stroke-width="1.1"/>
<line x1="127.95" y1="707.50" x2="127.95" y2="711.00" stroke="#111" stroke-width="1.1"/>
<line x1="130.21" y1="707.50" x2="130.21" y2="711.00" stroke="#111" stroke-width="1.1"/>
<line x1="132.17" y1="707.50" x2="132.17" y2="711.00" stroke="#111" stroke-width="1.1"/>
<line x1="133.90" y1="707.50" x2="133.90" y2="711.00" stroke="#111" stroke-width="1.1"/>
<line x1="135.45" y1="707.50" x2="135.45" y2="713.50" stroke="#111" stroke-width="1.1"/>
<line x1="145.63" y1="707.50" x2="145.63" y2="711.00" stroke="#111" stroke-width="1.1"/>
<line x1="151.59" y1="707.50" x2="151.59" y2="711.00" stroke="#111" stroke-width="1.1"/>
<line x1="155.81" y1="707.50" x2="155.81" y2="711.00" stroke="#111" stroke-width="1.1"/>
<line x1="159.09" y1="707.50" x2="159.09" y2="711.00" stroke="#111" stroke-width="1.1"/>
<line x1="161.77" y1="707.50" x2="161.77" y2="711.00" stroke="#111" stroke-width="1.1"/>
<line x1="164.04" y1="707.50" x2="164.04" y2="711.00" stroke="#111" stroke-width="1.1"/>
<line x1="166.00" y1="707.50" x2="166.00" y2="711.00" stroke="#111" stroke-width="1.1"/>
<line x1="167.73" y1="707.50" x2="167.73" y2="711.00" stroke="#111" stroke-width="1.1"/>
<line x1="169.28" y1="707.50" x2="169.28" y2="713.50" stroke="#111" stroke-width="1.1"/>
<line x1="179.46" y1="707.50" x2="179.46" y2="711.00" stroke="#111" stroke-width="1.1"/>
<line x1="185.41" y1="707.50" x2="185.41" y2="711.00" stroke="#111" stroke-width="1.1"/>
<line x1="189.64" y1="707.50" x2="189.64" y2="711.00" stroke="#111" stroke-width="1.1"/>
<line x1="192.92" y1="707.50" x2="192.92" y2="711.00" stroke="#111" stroke-width="1.1"/>
<line x1="195.60" y1="707.50" x2="195.60" y2="711.00" stroke="#111" stroke-width="1.1"/>
<line x1="197.86" y1="707.50" x2="197.86" y2="711.00" stroke="#111" stroke-width="1.1"/>
<line x1="199.82" y1="707.50" x2="199.82" y2="711.00" stroke="#111" stroke-width="1.1"/>
<line x1="201.55" y1="707.50" x2="201.55" y2="711.00" stroke="#111" stroke-width="1.1"/>
<line x1="203.10" y1="707.50" x2="203.10" y2="713.50" stroke="#111" stroke-width="1.1"/>
<text x="60.50" y="727.80" font-size="13.8" stroke="#111" stroke-width="0.25">10</text>
<text x="76.89" y="722.28" font-size="10.5" stroke="#111" stroke-width="0.25">0</text>
<text x="91.60" y="727.80" font-size="13.8" stroke="#111" stroke-width="0.25">10</text>
<text x="107.99" y="722.28" font-size="10.5" stroke="#111" stroke-width="0.25">1</text>
<text x="123.60" y="727.80" font-size="13.8" stroke="#111" stroke-width="0.25">10</text>
<text x="139.99" y="722.28" font-size="10.5" stroke="#111" stroke-width="0.25">2</text>
<text x="157.00" y="727.80" font-size="13.8" stroke="#111" stroke-width="0.25">10</text>
<text x="173.39" y="722.28" font-size="10.5" stroke="#111" stroke-width="0.25">3</text>
<text x="189.70" y="727.80" font-size="13.8" stroke="#111" stroke-width="0.25">10</text>
<text x="206.09" y="722.28" font-size="10.5" stroke="#111" stroke-width="0.25">4</text>
<rect x="222.70" y="575.60" width="134.90" height="131.90" fill="none" stroke="#111" stroke-width="1.4"/>
<line x1="216.70" y1="707.50" x2="222.70" y2="707.50" stroke="#111" stroke-width="1.1"/>
<line x1="219.20" y1="702.22" x2="222.70" y2="702.22" stroke="#111" stroke-width="1.1"/>
<line x1="219.20" y1="696.95" x2="222.70" y2="696.95" stroke="#111" stroke-width="1.1"/>
<line x1="219.20" y1="691.67" x2="222.70" y2="691.67" stroke="#111" stroke-width="1.1"/>
<line x1="219.20" y1="686.40" x2="222.70" y2="686.40" stroke="#111" stroke-width="1.1"/>
<line x1="216.70" y1="681.12" x2="222.70" y2="681.12" stroke="#111" stroke-width="1.1"/>
<line x1="219.20" y1="675.84" x2="222.70" y2="675.84" stroke="#111" stroke-width="1.1"/>
<line x1="219.20" y1="670.57" x2="222.70" y2="670.57" stroke="#111" stroke-width="1.1"/>
<line x1="219.20" y1="665.29" x2="222.70" y2="665.29" stroke="#111" stroke-width="1.1"/>
<line x1="219.20" y1="660.02" x2="222.70" y2="660.02" stroke="#111" stroke-width="1.1"/>
<line x1="216.70" y1="654.74" x2="222.70" y2="654.74" stroke="#111" stroke-width="1.1"/>
<line x1="219.20" y1="649.46" x2="222.70" y2="649.46" stroke="#111" stroke-width="1.1"/>
<line x1="219.20" y1="644.19" x2="222.70" y2="644.19" stroke="#111" stroke-width="1.1"/>
<line x1="219.20" y1="638.91" x2="222.70" y2="638.91" stroke="#111" stroke-width="1.1"/>
<line x1="219.20" y1="633.64" x2="222.70" y2="633.64" stroke="#111" stroke-width="1.1"/>
<line x1="216.70" y1="628.36" x2="222.70" y2="628.36" stroke="#111" stroke-width="1.1"/>
<line x1="219.20" y1="623.08" x2="222.70" y2="623.08" stroke="#111" stroke-width="1.1"/>
<line x1="219.20" y1="617.81" x2="222.70" y2="617.81" stroke="#111" stroke-width="1.1"/>
<line x1="219.20" y1="612.53" x2="222.70" y2="612.53" stroke="#111" stroke-width="1.1"/>
<line x1="219.20" y1="607.26" x2="222.70" y2="607.26" stroke="#111" stroke-width="1.1"/>
<line x1="216.70" y1="601.98" x2="222.70" y2="601.98" stroke="#111" stroke-width="1.1"/>
<line x1="219.20" y1="596.70" x2="222.70" y2="596.70" stroke="#111" stroke-width="1.1"/>
<line x1="219.20" y1="591.43" x2="222.70" y2="591.43" stroke="#111" stroke-width="1.1"/>
<line x1="219.20" y1="586.15" x2="222.70" y2="586.15" stroke="#111" stroke-width="1.1"/>
<line x1="219.20" y1="580.88" x2="222.70" y2="580.88" stroke="#111" stroke-width="1.1"/>
<line x1="216.70" y1="575.60" x2="222.70" y2="575.60" stroke="#111" stroke-width="1.1"/>
<line x1="222.70" y1="707.50" x2="222.70" y2="713.50" stroke="#111" stroke-width="1.1"/>
<line x1="232.85" y1="707.50" x2="232.85" y2="711.00" stroke="#111" stroke-width="1.1"/>
<line x1="238.79" y1="707.50" x2="238.79" y2="711.00" stroke="#111" stroke-width="1.1"/>
<line x1="243.00" y1="707.50" x2="243.00" y2="711.00" stroke="#111" stroke-width="1.1"/>
<line x1="246.27" y1="707.50" x2="246.27" y2="711.00" stroke="#111" stroke-width="1.1"/>
<line x1="248.94" y1="707.50" x2="248.94" y2="711.00" stroke="#111" stroke-width="1.1"/>
<line x1="251.20" y1="707.50" x2="251.20" y2="711.00" stroke="#111" stroke-width="1.1"/>
<line x1="253.16" y1="707.50" x2="253.16" y2="711.00" stroke="#111" stroke-width="1.1"/>
<line x1="254.88" y1="707.50" x2="254.88" y2="711.00" stroke="#111" stroke-width="1.1"/>
<line x1="256.43" y1="707.50" x2="256.43" y2="713.50" stroke="#111" stroke-width="1.1"/>
<line x1="266.58" y1="707.50" x2="266.58" y2="711.00" stroke="#111" stroke-width="1.1"/>
<line x1="272.52" y1="707.50" x2="272.52" y2="711.00" stroke="#111" stroke-width="1.1"/>
<line x1="276.73" y1="707.50" x2="276.73" y2="711.00" stroke="#111" stroke-width="1.1"/>
<line x1="280.00" y1="707.50" x2="280.00" y2="711.00" stroke="#111" stroke-width="1.1"/>
<line x1="282.67" y1="707.50" x2="282.67" y2="711.00" stroke="#111" stroke-width="1.1"/>
<line x1="284.93" y1="707.50" x2="284.93" y2="711.00" stroke="#111" stroke-width="1.1"/>
<line x1="286.88" y1="707.50" x2="286.88" y2="711.00" stroke="#111" stroke-width="1.1"/>
<line x1="288.61" y1="707.50" x2="288.61" y2="711.00" stroke="#111" stroke-width="1.1"/>
<line x1="290.15" y1="707.50" x2="290.15" y2="713.50" stroke="#111" stroke-width="1.1"/>
<line x1="300.30" y1="707.50" x2="300.30" y2="711.00" stroke="#111" stroke-width="1.1"/>
<line x1="306.24" y1="707.50" x2="306.24" y2="711.00" stroke="#111" stroke-width="1.1"/>
<line x1="310.45" y1="707.50" x2="310.45" y2="711.00" stroke="#111" stroke-width="1.1"/>
<line x1="313.72" y1="707.50" x2="313.72" y2="711.00" stroke="#111" stroke-width="1.1"/>
<line x1="316.39" y1="707.50" x2="316.39" y2="711.00" stroke="#111" stroke-width="1.1"/>
<line x1="318.65" y1="707.50" x2="318.65" y2="711.00" stroke="#111" stroke-width="1.1"/>
<line x1="320.61" y1="707.50" x2="320.61" y2="711.00" stroke="#111" stroke-width="1.1"/>
<line x1="322.33" y1="707.50" x2="322.33" y2="711.00" stroke="#111" stroke-width="1.1"/>
<line x1="323.88" y1="707.50" x2="323.88" y2="713.50" stroke="#111" stroke-width="1.1"/>
<line x1="334.03" y1="707.50" x2="334.03" y2="711.00" stroke="#111" stroke-width="1.1"/>
<line x1="339.97" y1="707.50" x2="339.97" y2="711.00" stroke="#111" stroke-width="1.1"/>
<line x1="344.18" y1="707.50" x2="344.18" y2="711.00" stroke="#111" stroke-width="1.1"/>
<line x1="347.45" y1="707.50" x2="347.45" y2="711.00" stroke="#111" stroke-width="1.1"/>
<line x1="350.12" y1="707.50" x2="350.12" y2="711.00" stroke="#111" stroke-width="1.1"/>
<line x1="352.38" y1="707.50" x2="352.38" y2="711.00" stroke="#111" stroke-width="1.1"/>
<line x1="354.33" y1="707.50" x2="354.33" y2="711.00" stroke="#111" stroke-width="1.1"/>
<line x1="356.06" y1="707.50" x2="356.06" y2="711.00" stroke="#111" stroke-width="1.1"/>
<line x1="357.60" y1="707.50" x2="357.60" y2="713.50" stroke="#111" stroke-width="1.1"/>
<text x="212.20" y="727.80" font-size="13.8" stroke="#111" stroke-width="0.25">10</text>
<text x="228.59" y="722.28" font-size="10.5" stroke="#111" stroke-width="0.25">0</text>
<text x="246.50" y="727.80" font-size="13.8" stroke="#111" stroke-width="0.25">10</text>
<text x="262.89" y="722.28" font-size="10.5" stroke="#111" stroke-width="0.25">1</text>
<text x="277.60" y="727.80" font-size="13.8" stroke="#111" stroke-width="0.25">10</text>
<text x="293.99" y="722.28" font-size="10.5" stroke="#111" stroke-width="0.25">2</text>
<text x="311.90" y="727.80" font-size="13.8" stroke="#111" stroke-width="0.25">10</text>
<text x="328.29" y="722.28" font-size="10.5" stroke="#111" stroke-width="0.25">3</text>
<text x="342.90" y="727.80" font-size="13.8" stroke="#111" stroke-width="0.25">10</text>
<text x="359.29" y="722.28" font-size="10.5" stroke="#111" stroke-width="0.25">4</text>
<rect x="374.10" y="575.60" width="136.20" height="131.90" fill="none" stroke="#111" stroke-width="1.4"/>
<line x1="368.10" y1="707.50" x2="374.10" y2="707.50" stroke="#111" stroke-width="1.1"/>
<line x1="370.60" y1="702.22" x2="374.10" y2="702.22" stroke="#111" stroke-width="1.1"/>
<line x1="370.60" y1="696.95" x2="374.10" y2="696.95" stroke="#111" stroke-width="1.1"/>
<line x1="370.60" y1="691.67" x2="374.10" y2="691.67" stroke="#111" stroke-width="1.1"/>
<line x1="370.60" y1="686.40" x2="374.10" y2="686.40" stroke="#111" stroke-width="1.1"/>
<line x1="368.10" y1="681.12" x2="374.10" y2="681.12" stroke="#111" stroke-width="1.1"/>
<line x1="370.60" y1="675.84" x2="374.10" y2="675.84" stroke="#111" stroke-width="1.1"/>
<line x1="370.60" y1="670.57" x2="374.10" y2="670.57" stroke="#111" stroke-width="1.1"/>
<line x1="370.60" y1="665.29" x2="374.10" y2="665.29" stroke="#111" stroke-width="1.1"/>
<line x1="370.60" y1="660.02" x2="374.10" y2="660.02" stroke="#111" stroke-width="1.1"/>
<line x1="368.10" y1="654.74" x2="374.10" y2="654.74" stroke="#111" stroke-width="1.1"/>
<line x1="370.60" y1="649.46" x2="374.10" y2="649.46" stroke="#111" stroke-width="1.1"/>
<line x1="370.60" y1="644.19" x2="374.10" y2="644.19" stroke="#111" stroke-width="1.1"/>
<line x1="370.60" y1="638.91" x2="374.10" y2="638.91" stroke="#111" stroke-width="1.1"/>
<line x1="370.60" y1="633.64" x2="374.10" y2="633.64" stroke="#111" stroke-width="1.1"/>
<line x1="368.10" y1="628.36" x2="374.10" y2="628.36" stroke="#111" stroke-width="1.1"/>
<line x1="370.60" y1="623.08" x2="374.10" y2="623.08" stroke="#111" stroke-width="1.1"/>
<line x1="370.60" y1="617.81" x2="374.10" y2="617.81" stroke="#111" stroke-width="1.1"/>
<line x1="370.60" y1="612.53" x2="374.10" y2="612.53" stroke="#111" stroke-width="1.1"/>
<line x1="370.60" y1="607.26" x2="374.10" y2="607.26" stroke="#111" stroke-width="1.1"/>
<line x1="368.10" y1="601.98" x2="374.10" y2="601.98" stroke="#111" stroke-width="1.1"/>
<line x1="370.60" y1="596.70" x2="374.10" y2="596.70" stroke="#111" stroke-width="1.1"/>
<line x1="370.60" y1="591.43" x2="374.10" y2="591.43" stroke="#111" stroke-width="1.1"/>
<line x1="370.60" y1="586.15" x2="374.10" y2="586.15" stroke="#111" stroke-width="1.1"/>
<line x1="370.60" y1="580.88" x2="374.10" y2="580.88" stroke="#111" stroke-width="1.1"/>
<line x1="368.10" y1="575.60" x2="374.10" y2="575.60" stroke="#111" stroke-width="1.1"/>
<line x1="374.10" y1="707.50" x2="374.10" y2="713.50" stroke="#111" stroke-width="1.1"/>
<line x1="384.35" y1="707.50" x2="384.35" y2="711.00" stroke="#111" stroke-width="1.1"/>
<line x1="390.35" y1="707.50" x2="390.35" y2="711.00" stroke="#111" stroke-width="1.1"/>
<line x1="394.60" y1="707.50" x2="394.60" y2="711.00" stroke="#111" stroke-width="1.1"/>
<line x1="397.90" y1="707.50" x2="397.90" y2="711.00" stroke="#111" stroke-width="1.1"/>
<line x1="400.60" y1="707.50" x2="400.60" y2="711.00" stroke="#111" stroke-width="1.1"/>
<line x1="402.88" y1="707.50" x2="402.88" y2="711.00" stroke="#111" stroke-width="1.1"/>
<line x1="404.85" y1="707.50" x2="404.85" y2="711.00" stroke="#111" stroke-width="1.1"/>
<line x1="406.59" y1="707.50" x2="406.59" y2="711.00" stroke="#111" stroke-width="1.1"/>
<line x1="408.15" y1="707.50" x2="408.15" y2="713.50" stroke="#111" stroke-width="1.1"/>
<line x1="418.40" y1="707.50" x2="418.40" y2="711.00" stroke="#111" stroke-width="1.1"/>
<line x1="424.40" y1="707.50" x2="424.40" y2="711.00" stroke="#111" stroke-width="1.1"/>
<line x1="428.65" y1="707.50" x2="428.65" y2="711.00" stroke="#111" stroke-width="1.1"/>
<line x1="431.95" y1="707.50" x2="431.95" y2="711.00" stroke="#111" stroke-width="1.1"/>
<line x1="434.65" y1="707.50" x2="434.65" y2="711.00" stroke="#111" stroke-width="1.1"/>
<line x1="436.93" y1="707.50" x2="436.93" y2="711.00" stroke="#111" stroke-width="1.1"/>
<line x1="438.90" y1="707.50" x2="438.90" y2="711.00" stroke="#111" stroke-width="1.1"/>
<line x1="440.64" y1="707.50" x2="440.64" y2="711.00" stroke="#111" stroke-width="1.1"/>
<line x1="442.20" y1="707.50" x2="442.20" y2="713.50" stroke="#111" stroke-width="1.1"/>
<line x1="452.45" y1="707.50" x2="452.45" y2="711.00" stroke="#111" stroke-width="1.1"/>
<line x1="458.45" y1="707.50" x2="458.45" y2="711.00" stroke="#111" stroke-width="1.1"/>
<line x1="462.70" y1="707.50" x2="462.70" y2="711.00" stroke="#111" stroke-width="1.1"/>
<line x1="466.00" y1="707.50" x2="466.00" y2="711.00" stroke="#111" stroke-width="1.1"/>
<line x1="468.70" y1="707.50" x2="468.70" y2="711.00" stroke="#111" stroke-width="1.1"/>
<line x1="470.98" y1="707.50" x2="470.98" y2="711.00" stroke="#111" stroke-width="1.1"/>
<line x1="472.95" y1="707.50" x2="472.95" y2="711.00" stroke="#111" stroke-width="1.1"/>
<line x1="474.69" y1="707.50" x2="474.69" y2="711.00" stroke="#111" stroke-width="1.1"/>
<line x1="476.25" y1="707.50" x2="476.25" y2="713.50" stroke="#111" stroke-width="1.1"/>
<line x1="486.50" y1="707.50" x2="486.50" y2="711.00" stroke="#111" stroke-width="1.1"/>
<line x1="492.50" y1="707.50" x2="492.50" y2="711.00" stroke="#111" stroke-width="1.1"/>
<line x1="496.75" y1="707.50" x2="496.75" y2="711.00" stroke="#111" stroke-width="1.1"/>
<line x1="500.05" y1="707.50" x2="500.05" y2="711.00" stroke="#111" stroke-width="1.1"/>
<line x1="502.75" y1="707.50" x2="502.75" y2="711.00" stroke="#111" stroke-width="1.1"/>
<line x1="505.03" y1="707.50" x2="505.03" y2="711.00" stroke="#111" stroke-width="1.1"/>
<line x1="507.00" y1="707.50" x2="507.00" y2="711.00" stroke="#111" stroke-width="1.1"/>
<line x1="508.74" y1="707.50" x2="508.74" y2="711.00" stroke="#111" stroke-width="1.1"/>
<line x1="510.30" y1="707.50" x2="510.30" y2="713.50" stroke="#111" stroke-width="1.1"/>
<text x="367.00" y="727.80" font-size="13.8" stroke="#111" stroke-width="0.25">10</text>
<text x="383.39" y="722.28" font-size="10.5" stroke="#111" stroke-width="0.25">0</text>
<text x="399.70" y="727.80" font-size="13.8" stroke="#111" stroke-width="0.25">10</text>
<text x="416.09" y="722.28" font-size="10.5" stroke="#111" stroke-width="0.25">1</text>
<text x="430.70" y="727.80" font-size="13.8" stroke="#111" stroke-width="0.25">10</text>
<text x="447.09" y="722.28" font-size="10.5" stroke="#111" stroke-width="0.25">2</text>
<text x="465.00" y="727.80" font-size="13.8" stroke="#111" stroke-width="0.25">10</text>
<text x="481.39" y="722.28" font-size="10.5" stroke="#111" stroke-width="0.25">3</text>
<text x="495.10" y="727.80" font-size="13.8" stroke="#111" stroke-width="0.25">10</text>
<text x="511.49" y="722.28" font-size="10.5" stroke="#111" stroke-width="0.25">4</text>
<line x1="68.50" y1="655.50" x2="68.50" y2="707.50" stroke="#111" stroke-width="2.4"/>
<line x1="223.40" y1="655.50" x2="223.40" y2="707.50" stroke="#111" stroke-width="2.4"/>
<line x1="374.80" y1="655.50" x2="374.80" y2="707.50" stroke="#111" stroke-width="2.4"/>
<text x="34.60" y="640.50" font-size="19" text-anchor="middle" textLength="103.50" lengthAdjust="spacingAndGlyphs" transform="rotate(-90 34.60 640.50)" stroke="#111" stroke-width="0.25">Cell number</text>
<polyline points="68.70,706.07 70.20,694.07 70.60,690.95 71.70,680.14 73.20,664.55 73.40,662.94 74.30,642.80 74.70,642.77 76.20,642.47 77.10,642.07 77.70,618.71 78.00,607.49 79.20,588.92 79.50,584.72 80.70,579.75 81.30,576.45 82.20,576.56 83.60,577.22 83.70,578.43 85.20,587.19 85.40,588.53 86.70,604.67 86.90,607.31 87.30,636.79 88.20,638.23 89.10,640.57 89.70,647.08 91.00,662.39 91.20,664.45 92.70,679.64 92.90,681.18 94.20,689.61 94.70,692.21 95.70,694.21 97.20,697.21 97.50,698.22 98.70,699.74 100.20,701.27 101.70,703.13 102.10,703.56 103.20,703.85 104.70,703.90 106.20,704.00 107.70,704.28 109.20,704.41 110.70,704.52 111.40,704.51 112.20,704.72 113.70,704.85 115.20,704.98 116.70,705.07 118.20,705.39 119.70,705.53 121.20,705.65 122.70,705.86 124.20,705.93 125.00,705.97 125.70,705.94 127.20,706.03 128.70,706.03 130.20,706.02 131.70,706.13 133.20,706.11 134.70,706.00 136.20,706.14 137.70,706.00 139.20,706.12 140.70,706.07 142.20,706.15 143.70,706.20 145.20,706.13 146.70,706.18 148.20,706.07 149.70,706.19 151.20,706.10 152.70,706.17 154.20,706.16 155.70,706.13 157.20,706.25 158.70,706.15 160.20,706.19 161.70,706.17 163.20,706.27 164.70,706.22 166.20,706.19 167.70,706.20 169.20,706.24 170.70,706.29 172.20,706.22 173.70,706.24 175.20,706.35 176.70,706.34 178.20,706.28 179.70,706.32 181.20,706.30 182.70,706.33 184.20,706.36 185.70,706.35 187.20,706.35 188.70,706.37 190.20,706.39 191.70,706.44 193.20,706.50 194.70,706.47 196.20,706.45 197.70,706.39 199.20,706.43 200.70,706.51 202.20,706.48 203.00,706.55" fill="none" stroke="#111" stroke-width="1.4" stroke-linejoin="miter" stroke-miterlimit="3" stroke-dasharray="2.2 1.4"/>
<polyline points="68.00,706.31 70.00,706.31 70.00,706.16 72.00,706.16 72.00,705.90 74.00,705.90 74.00,705.61 76.00,705.61 76.00,705.27 78.00,705.27 78.00,705.23 80.00,705.23 80.00,704.55 82.00,704.55 82.00,703.32 84.00,703.32 84.00,702.23 86.00,702.23 86.00,700.87 88.00,700.87 88.00,699.46 90.00,699.46 90.00,697.91 92.00,697.91 92.00,696.26 94.00,696.26 94.00,692.01 96.00,692.01 96.00,684.84 98.00,684.84 98.00,669.50 100.00,669.50 100.00,662.84 102.00,662.84 102.00,658.56 104.00,658.56 104.00,653.94 106.00,653.94 106.00,636.25 108.00,636.25 108.00,642.26 110.00,642.26 110.00,644.76 112.00,644.76 112.00,642.44 114.00,642.44 114.00,650.60 116.00,650.60 116.00,655.49 118.00,655.49 118.00,652.82 120.00,652.82 120.00,651.41 122.00,651.41 122.00,647.80 124.00,647.80 124.00,649.62 126.00,649.62 126.00,650.03 128.00,650.03 128.00,654.43 130.00,654.43 130.00,666.29 132.00,666.29 132.00,670.51 134.00,670.51 134.00,677.82 136.00,677.82 136.00,683.59 138.00,683.59 138.00,690.08 140.00,690.08 140.00,693.10 142.00,693.10 142.00,695.66 144.00,695.66 144.00,699.12 146.00,699.12 146.00,698.63 148.00,698.63 148.00,699.74 150.00,699.74 150.00,699.41 152.00,699.41 152.00,700.68 154.00,700.68 154.00,700.78 156.00,700.78 156.00,700.80 158.00,700.80 158.00,701.00 160.00,701.00 160.00,701.00 162.00,701.00 162.00,701.34 164.00,701.34 164.00,700.93 166.00,700.93 166.00,701.48 168.00,701.48 168.00,702.00 170.00,702.00 170.00,701.86 172.00,701.86 172.00,702.87 174.00,702.87 174.00,703.23 176.00,703.23 176.00,703.30 178.00,703.30 178.00,703.91 180.00,703.91 180.00,704.62 182.00,704.62 182.00,705.02 184.00,705.02 184.00,705.39 186.00,705.39 186.00,705.31 188.00,705.31 188.00,705.34 190.00,705.34 190.00,705.52 192.00,705.52 192.00,705.84 194.00,705.84 194.00,706.05 196.00,706.05 196.00,706.07 198.00,706.07 198.00,706.21 200.00,706.21 200.00,706.37 202.00,706.37 202.00,706.51 203.00,706.51" fill="none" stroke="#111" stroke-width="1.3" stroke-linejoin="miter" stroke-miterlimit="3"/>
<polyline points="68.00,706.54 70.20,706.54 70.20,706.39 72.40,706.39 72.40,706.34 74.60,706.34 74.60,706.43 76.80,706.43 76.80,706.27 79.00,706.27 79.00,706.22 81.20,706.22 81.20,706.26 83.40,706.26 83.40,706.17 85.60,706.17 85.60,706.22 87.80,706.22 87.80,706.07 90.00,706.07 90.00,706.15 92.20,706.15 92.20,706.00 94.40,706.00 94.40,705.86 96.60,705.86 96.60,705.25 98.80,705.25 98.80,704.48 101.00,704.48 101.00,703.89 103.20,703.89 103.20,701.68 105.40,701.68 105.40,698.92 107.60,698.92 107.60,697.66 109.80,697.66 109.80,694.32 112.00,694.32 112.00,690.21 114.20,690.21 114.20,685.24 116.40,685.24 116.40,681.55 118.60,681.55 118.60,671.86 120.80,671.86 120.80,668.60 123.00,668.60 123.00,662.58 125.20,662.58 125.20,653.08 127.40,653.08 127.40,640.74 129.60,640.74 129.60,638.60 131.80,638.60 131.80,638.34 134.00,638.34 134.00,637.28 136.20,637.28 136.20,646.43 138.40,646.43 138.40,650.28 140.60,650.28 140.60,655.89 142.80,655.89 142.80,659.67 145.00,659.67 145.00,670.48 147.20,670.48 147.20,672.84 149.40,672.84 149.40,677.64 151.60,677.64 151.60,679.30 153.80,679.30 153.80,683.39 156.00,683.39 156.00,687.45 158.20,687.45 158.20,691.51 160.40,691.51 160.40,693.45 162.60,693.45 162.60,696.97 164.80,696.97 164.80,698.53 167.00,698.53 167.00,699.08 169.20,699.08 169.20,699.52 171.40,699.52 171.40,700.32 173.60,700.32 173.60,701.39 175.80,701.39 175.80,701.82 178.00,701.82 178.00,702.77 180.20,702.77 180.20,703.83 182.40,703.83 182.40,704.81 184.60,704.81 184.60,705.83 186.80,705.83 186.80,705.91 189.00,705.91 189.00,705.97 191.20,705.97 191.20,706.10 193.40,706.10 193.40,706.17 195.60,706.17 195.60,706.19 197.80,706.19 197.80,706.41 200.00,706.41 200.00,706.41 202.20,706.41 202.20,706.48 203.00,706.48" fill="none" stroke="#111" stroke-width="3.0" stroke-linejoin="miter" stroke-miterlimit="3"/>
<text x="94.50" y="590.40" font-size="14.3" textLength="45.00" lengthAdjust="spacingAndGlyphs" stroke="#111" stroke-width="0.25">control</text>
<text x="118.30" y="606.00" font-size="14.3" textLength="64.60" lengthAdjust="spacingAndGlyphs" stroke="#111" stroke-width="0.25">+antibody</text>
<text x="151.50" y="625.40" font-size="14.3" textLength="42.50" lengthAdjust="spacingAndGlyphs" stroke="#111" stroke-width="0.25">CD19-</text>
<text x="143.50" y="641.30" font-size="14.3" textLength="58.50" lengthAdjust="spacingAndGlyphs" stroke="#111" stroke-width="0.25">liposome</text>
<line x1="112.70" y1="595.00" x2="96.59" y2="611.40" stroke="#111" stroke-width="1.7"/>
<polygon points="90.00,618.10 94.15,607.60 100.43,613.77" fill="#111"/>
<line x1="145.20" y1="611.30" x2="118.23" y2="637.63" stroke="#111" stroke-width="1.7"/>
<polygon points="111.50,644.20 115.73,633.64 122.16,640.23" fill="#111"/>
<line x1="171.20" y1="645.00" x2="155.97" y2="659.68" stroke="#111" stroke-width="1.7"/>
<polygon points="149.20,666.20 153.64,655.82 159.74,662.15" fill="#111"/>
<polyline points="223.60,705.01 225.10,694.43 225.40,692.10 226.60,680.91 227.30,673.61 228.10,647.26 228.20,644.10 229.60,644.34 231.00,644.69 231.10,640.66 231.90,613.19 232.60,602.91 233.80,584.54 234.10,582.99 235.60,576.16 237.10,579.72 238.00,581.20 238.60,585.87 240.10,596.82 240.30,597.95 241.20,625.74 241.60,629.38 243.00,643.72 243.10,646.00 244.00,659.27 244.60,664.30 245.80,673.97 246.10,675.67 247.60,683.62 248.60,689.20 249.10,689.67 250.60,693.77 252.10,697.39 252.30,698.19 253.60,699.49 255.10,700.69 256.60,702.15 257.00,702.61 258.10,702.85 259.60,703.29 261.10,703.48 262.60,703.87 264.10,704.04 265.60,704.39 266.20,704.42 267.10,704.57 268.60,704.60 270.10,704.75 271.60,704.83 273.10,704.79 274.60,704.75 276.10,705.02 277.60,705.08 279.10,705.04 280.60,705.10 282.10,705.26 283.60,705.18 285.10,705.24 286.60,705.40 288.10,705.46 289.60,705.52 290.00,705.57 291.10,705.48 292.60,705.44 294.10,705.37 295.60,705.34 297.10,705.35 298.60,705.33 300.10,705.37 301.60,705.32 303.10,705.27 304.60,705.21 306.10,705.24 307.60,705.16 309.10,705.22 310.60,705.16 312.10,705.14 313.60,705.05 315.10,705.05 316.60,705.07 318.10,705.10 319.60,704.97 321.10,704.90 322.60,704.96 324.10,704.80 325.60,704.82 327.10,704.72 328.60,704.82 328.80,704.74 330.10,704.85 331.60,705.03 333.10,705.09 334.60,705.05 336.10,705.23 337.60,705.23 339.10,705.49 340.60,705.51 342.10,705.67 343.60,705.65 345.10,705.84 346.60,705.81 348.10,706.03 349.60,706.03 351.10,706.07 352.60,706.30 354.10,706.38 355.60,706.37 357.00,706.51" fill="none" stroke="#111" stroke-width="1.4" stroke-linejoin="miter" stroke-miterlimit="3" stroke-dasharray="2.2 1.4"/>
<polyline points="223.60,699.09 225.60,699.09 225.60,694.97 227.60,694.97 227.60,689.54 229.60,689.54 229.60,677.29 231.60,677.29 231.60,661.88 233.60,661.88 233.60,650.65 235.60,650.65 235.60,643.13 237.60,643.13 237.60,633.58 239.60,633.58 239.60,637.45 241.60,637.45 241.60,639.01 243.60,639.01 243.60,641.68 245.60,641.68 245.60,642.75 247.60,642.75 247.60,644.34 249.60,644.34 249.60,649.35 251.60,649.35 251.60,654.37 253.60,654.37 253.60,661.73 255.60,661.73 255.60,664.30 257.60,664.30 257.60,670.61 259.60,670.61 259.60,680.93 261.60,680.93 261.60,682.92 263.60,682.92 263.60,686.22 265.60,686.22 265.60,689.76 267.60,689.76 267.60,692.42 269.60,692.42 269.60,694.72 271.60,694.72 271.60,692.88 273.60,692.88 273.60,690.86 275.60,690.86 275.60,690.99 277.60,690.99 277.60,690.54 279.60,690.54 279.60,691.64 281.60,691.64 281.60,694.16 283.60,694.16 283.60,696.14 285.60,696.14 285.60,698.13 287.60,698.13 287.60,700.27 289.60,700.27 289.60,701.66 291.60,701.66 291.60,700.83 293.60,700.83 293.60,701.53 295.60,701.53 295.60,701.67 297.60,701.67 297.60,701.78 299.60,701.78 299.60,702.16 301.60,702.16 301.60,703.35 303.60,703.35 303.60,704.03 305.60,704.03 305.60,703.91 307.60,703.91 307.60,704.32 309.60,704.32 309.60,704.28 311.60,704.28 311.60,704.38 313.60,704.38 313.60,704.69 315.60,704.69 315.60,704.94 317.60,704.94 317.60,705.23 319.60,705.23 319.60,705.58 321.60,705.58 321.60,705.85 323.60,705.85 323.60,706.03 325.60,706.03 325.60,706.17 327.60,706.17 327.60,706.32 329.60,706.32 329.60,706.42 331.60,706.42 331.60,706.47 333.60,706.47 333.60,706.45 335.60,706.45 335.60,706.52 337.60,706.52 337.60,706.51 339.60,706.51 339.60,706.53 341.60,706.53 341.60,706.43 343.60,706.43 343.60,706.45 345.60,706.45 345.60,706.57 347.60,706.57 347.60,706.52 349.60,706.52 349.60,706.53 351.60,706.53 351.60,706.44 353.60,706.44 353.60,706.48 355.60,706.48 355.60,706.57 357.00,706.57" fill="none" stroke="#111" stroke-width="1.3" stroke-linejoin="miter" stroke-miterlimit="3"/>
<polyline points="236.00,706.85 238.20,706.85 238.20,706.60 240.40,706.60 240.40,706.36 242.60,706.36 242.60,706.21 244.80,706.21 244.80,705.79 247.00,705.79 247.00,705.33 249.20,705.33 249.20,704.63 251.40,704.63 251.40,703.95 253.60,703.95 253.60,703.04 255.80,703.04 255.80,701.77 258.00,701.77 258.00,700.92 260.20,700.92 260.20,699.15 262.40,699.15 262.40,696.78 264.60,696.78 264.60,692.77 266.80,692.77 266.80,689.76 269.00,689.76 269.00,684.19 271.20,684.19 271.20,678.53 273.40,678.53 273.40,674.56 275.60,674.56 275.60,671.53 277.80,671.53 277.80,658.09 280.00,658.09 280.00,647.50 282.20,647.50 282.20,636.41 284.40,636.41 284.40,636.04 286.60,636.04 286.60,636.16 288.80,636.16 288.80,638.73 291.00,638.73 291.00,646.16 293.20,646.16 293.20,651.98 295.40,651.98 295.40,653.69 297.60,653.69 297.60,657.40 299.80,657.40 299.80,671.15 302.00,671.15 302.00,675.16 304.20,675.16 304.20,677.13 306.40,677.13 306.40,680.84 308.60,680.84 308.60,687.48 310.80,687.48 310.80,690.54 313.00,690.54 313.00,692.84 315.20,692.84 315.20,695.00 317.40,695.00 317.40,697.98 319.60,697.98 319.60,698.70 321.80,698.70 321.80,699.60 324.00,699.60 324.00,700.14 326.20,700.14 326.20,700.58 328.40,700.58 328.40,701.65 330.60,701.65 330.60,703.12 332.80,703.12 332.80,704.70 335.00,704.70 335.00,705.92 337.20,705.92 337.20,706.49 339.40,706.49 339.40,706.45 341.60,706.45 341.60,706.50 343.80,706.50 343.80,706.54 346.00,706.54 346.00,706.49 348.20,706.49 348.20,706.52 350.40,706.52 350.40,706.45 352.60,706.45 352.60,706.45 354.80,706.45 354.80,706.52 357.00,706.52" fill="none" stroke="#111" stroke-width="3.0" stroke-linejoin="miter" stroke-miterlimit="3"/>
<polyline points="375.00,704.99 376.50,696.55 378.00,678.23 378.40,673.78 379.50,656.31 380.20,644.46 381.00,632.18 382.10,616.25 382.50,612.65 383.90,597.74 384.00,596.45 385.50,584.13 385.80,580.73 387.00,578.17 387.60,576.62 388.50,579.61 390.00,585.36 391.40,599.38 391.50,600.12 393.00,604.29 393.20,605.77 394.10,625.34 394.50,633.15 395.10,644.63 396.00,652.08 396.90,658.70 397.50,664.18 398.80,674.34 399.00,675.26 400.50,686.53 400.60,686.73 402.00,690.37 403.40,694.15 403.50,694.41 405.00,697.03 406.50,699.07 407.10,700.23 408.00,700.62 409.50,701.06 411.00,701.90 412.50,702.52 414.00,703.43 414.60,703.73 415.50,703.87 417.00,703.98 418.50,704.36 420.00,704.48 421.50,704.90 423.00,705.05 424.50,705.22 425.70,705.60 426.00,705.58 427.50,705.44 429.00,705.54 430.50,705.39 432.00,705.41 433.50,705.40 435.00,705.42 436.50,705.25 438.00,705.22 439.50,705.23 441.00,705.25 442.50,705.32 444.00,705.28 445.50,705.13 447.00,705.24 448.50,705.10 450.00,705.04 451.50,705.12 453.00,705.19 454.50,705.17 456.00,705.05 457.50,705.10 459.00,704.95 460.00,704.92 460.50,705.12 462.00,705.10 463.50,705.03 465.00,705.11 466.50,705.25 468.00,705.15 469.50,705.22 471.00,705.39 472.50,705.32 474.00,705.40 475.50,705.45 477.00,705.51 478.50,705.52 480.00,705.55 481.50,705.70 483.00,705.74 484.50,705.82 486.00,705.69 487.50,705.76 489.00,705.93 490.50,705.88 492.00,706.01 493.50,705.97 495.00,706.03 496.50,706.12 498.00,706.13 499.50,706.19 501.00,706.15 502.50,706.33 504.00,706.34 505.50,706.33 507.00,706.41 508.50,706.48 510.00,706.56" fill="none" stroke="#111" stroke-width="1.4" stroke-linejoin="miter" stroke-miterlimit="3" stroke-dasharray="2.2 1.4"/>
<polyline points="374.50,694.85 376.50,694.85 376.50,682.02 378.50,682.02 378.50,664.36 380.50,664.36 380.50,648.29 382.50,648.29 382.50,640.26 384.50,640.26 384.50,633.23 386.50,633.23 386.50,623.62 388.50,623.62 388.50,615.03 390.50,615.03 390.50,617.91 392.50,617.91 392.50,634.21 394.50,634.21 394.50,640.39 396.50,640.39 396.50,645.83 398.50,645.83 398.50,655.78 400.50,655.78 400.50,661.48 402.50,661.48 402.50,667.32 404.50,667.32 404.50,673.30 406.50,673.30 406.50,681.20 408.50,681.20 408.50,683.13 410.50,683.13 410.50,688.33 412.50,688.33 412.50,690.60 414.50,690.60 414.50,690.64 416.50,690.64 416.50,692.78 418.50,692.78 418.50,691.27 420.50,691.27 420.50,693.84 422.50,693.84 422.50,694.43 424.50,694.43 424.50,693.84 426.50,693.84 426.50,696.18 428.50,696.18 428.50,697.46 430.50,697.46 430.50,697.22 432.50,697.22 432.50,698.06 434.50,698.06 434.50,697.22 436.50,697.22 436.50,698.44 438.50,698.44 438.50,698.76 440.50,698.76 440.50,699.88 442.50,699.88 442.50,699.47 444.50,699.47 444.50,700.48 446.50,700.48 446.50,701.32 448.50,701.32 448.50,701.81 450.50,701.81 450.50,701.95 452.50,701.95 452.50,702.42 454.50,702.42 454.50,702.15 456.50,702.15 456.50,701.39 458.50,701.39 458.50,701.22 460.50,701.22 460.50,702.21 462.50,702.21 462.50,702.49 464.50,702.49 464.50,703.19 466.50,703.19 466.50,703.55 468.50,703.55 468.50,703.98 470.50,703.98 470.50,704.29 472.50,704.29 472.50,704.86 474.50,704.86 474.50,705.50 476.50,705.50 476.50,706.07 478.50,706.07 478.50,706.51 480.50,706.51 480.50,706.72 482.50,706.72 482.50,706.68 484.50,706.68 484.50,706.72 486.50,706.72 486.50,706.67 488.50,706.67 488.50,706.61 490.50,706.61 490.50,706.57 492.50,706.57 492.50,706.55 494.50,706.55 494.50,706.53 496.50,706.53 496.50,706.64 498.50,706.64 498.50,706.63 500.50,706.63 500.50,706.59 502.50,706.59 502.50,706.48 504.50,706.48 504.50,706.56 506.50,706.56 506.50,706.46 508.50,706.46 508.50,706.57 510.00,706.57" fill="none" stroke="#111" stroke-width="1.3" stroke-linejoin="miter" stroke-miterlimit="3"/>
<polyline points="387.00,706.68 389.20,706.68 389.20,705.93 391.40,705.93 391.40,705.32 393.60,705.32 393.60,704.75 395.80,704.75 395.80,704.39 398.00,704.39 398.00,703.84 400.20,703.84 400.20,703.42 402.40,703.42 402.40,702.42 404.60,702.42 404.60,701.81 406.80,701.81 406.80,700.69 409.00,700.69 409.00,700.01 411.20,700.01 411.20,698.51 413.40,698.51 413.40,695.66 415.60,695.66 415.60,693.68 417.80,693.68 417.80,692.67 420.00,692.67 420.00,689.67 422.20,689.67 422.20,675.19 424.40,675.19 424.40,674.12 426.60,674.12 426.60,670.99 428.80,670.99 428.80,655.34 431.00,655.34 431.00,648.94 433.20,648.94 433.20,638.12 435.40,638.12 435.40,635.82 437.60,635.82 437.60,635.27 439.80,635.27 439.80,637.67 442.00,637.67 442.00,649.68 444.20,649.68 444.20,650.59 446.40,650.59 446.40,651.75 448.60,651.75 448.60,654.57 450.80,654.57 450.80,671.71 453.00,671.71 453.00,674.46 455.20,674.46 455.20,676.41 457.40,676.41 457.40,678.10 459.60,678.10 459.60,683.37 461.80,683.37 461.80,685.79 464.00,685.79 464.00,689.55 466.20,689.55 466.20,692.07 468.40,692.07 468.40,692.71 470.60,692.71 470.60,695.26 472.80,695.26 472.80,696.46 475.00,696.46 475.00,697.32 477.20,697.32 477.20,697.24 479.40,697.24 479.40,698.96 481.60,698.96 481.60,700.55 483.80,700.55 483.80,702.35 486.00,702.35 486.00,704.71 488.20,704.71 488.20,705.33 490.40,705.33 490.40,705.78 492.60,705.78 492.60,705.93 494.80,705.93 494.80,705.96 497.00,705.96 497.00,706.04 499.20,706.04 499.20,706.10 501.40,706.10 501.40,706.19 503.60,706.19 503.60,706.37 505.80,706.37 505.80,706.41 508.00,706.41 508.00,706.48 510.00,706.48" fill="none" stroke="#111" stroke-width="3.0" stroke-linejoin="miter" stroke-miterlimit="3"/>
<line x1="64.20" y1="736.70" x2="493.00" y2="736.70" stroke="#111" stroke-width="2.0"/>
<polygon points="506.6,736.7 491.2,731.9 491.2,741.5" fill="#111"/>
<text x="185.10" y="759.00" font-size="18.5" textLength="191.80" lengthAdjust="spacingAndGlyphs" stroke="#111" stroke-width="0.25">Fluorescence intensity</text>
</svg></body></html>
